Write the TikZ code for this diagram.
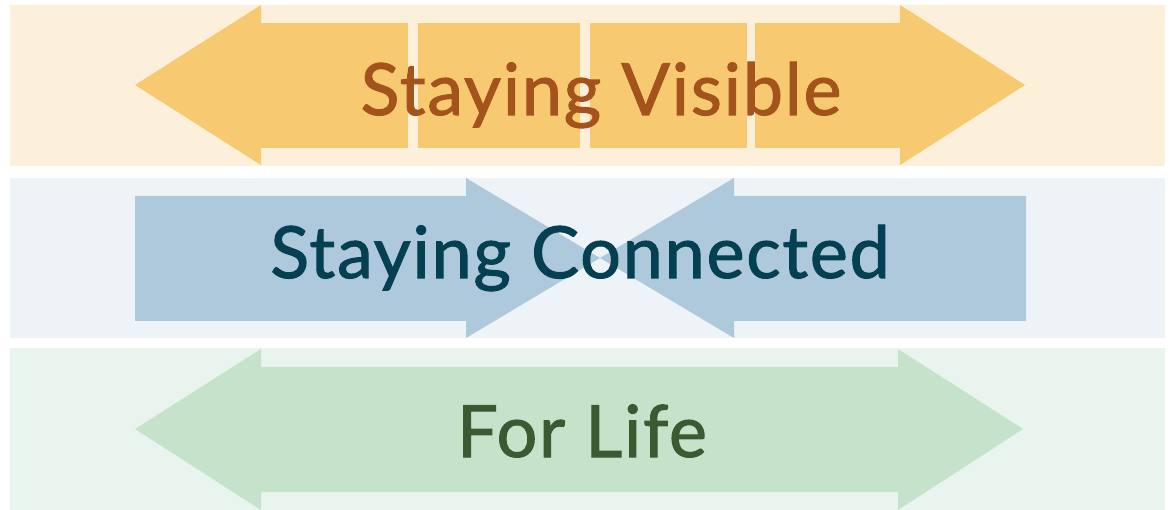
\documentclass[tikz,border=0pt]{standalone}
\usepackage{fontspec}
\setmainfont{Lato}
\newfontfamily\bandfont{Lato}[LetterSpace=2.4, FakeBold=1.4]
\usetikzlibrary{positioning}

\definecolor{visband}{HTML}{FDF0DA}
\definecolor{visarrow}{HTML}{F7CA71}
\definecolor{vistext}{HTML}{A5531C}
\definecolor{conband}{HTML}{EEF3F7}
\definecolor{conarrow}{HTML}{AEC9DC}
\definecolor{context}{HTML}{053F52}
\definecolor{lifeband}{HTML}{EAF4EE}
\definecolor{lifearrow}{HTML}{C4E3CA}
\definecolor{lifetext}{HTML}{3C5A32}

\tikzset{
    label text/.style = {anchor=base, inner sep=0pt,
                         font=\bandfont\fontsize{72}{80}\selectfont},
}

\begin{document}
\begin{tikzpicture}%
            [x = 1pt, y = -1pt]
            \useasboundingbox (0,0) rectangle (1175,510);
            \fill[white] (0,0) rectangle (1175,510);

            % background bands
            \fill[visband]  (10,5)   rectangle (1165,166);
            \fill[conband]  (10,178) rectangle (1165,338);
            \fill[lifeband] (10,348) rectangle (1165,510);

            % top: double arrow with a cut shaft
            \fill[visarrow] (261,5) -- (135,85) -- (261,165) -- cycle;
            \fill[visarrow] (900,5) -- (1025,85) -- (900,165) -- cycle;
            \fill[visarrow] (261,23) rectangle (408,148);
            \fill[visarrow] (418,23) rectangle (580,148);
            \fill[visarrow] (590,23) rectangle (747,148);
            \fill[visarrow] (755,23) rectangle (900,148);
            \node [label text, text=vistext] (visible) at (601,115) {Staying Visible};

            % middle: two arrows pointing at each other
            \fill[conarrow] (135,196) -- (466,196) -- (466,178) -- (600,258)
                            -- (466,338) -- (466,321) -- (135,321) -- cycle;
            \fill[conarrow] (1026,196) -- (734,196) -- (734,178) -- (600,258)
                            -- (734,338) -- (734,321) -- (1026,321) -- cycle;
            \node [label text, text=context] (connected) at (580,278) {Staying Connected};

            % bottom: plain double arrow
            \fill[lifearrow] (135,429) -- (261,349) -- (261,367) -- (898,367)
                             -- (898,349) -- (1023,429) -- (898,510) -- (898,492)
                             -- (261,492) -- (261,510) -- cycle;
            \node [label text, text=lifetext] (life) at (582,457) {For Life};
        \end{tikzpicture}
\end{document}
